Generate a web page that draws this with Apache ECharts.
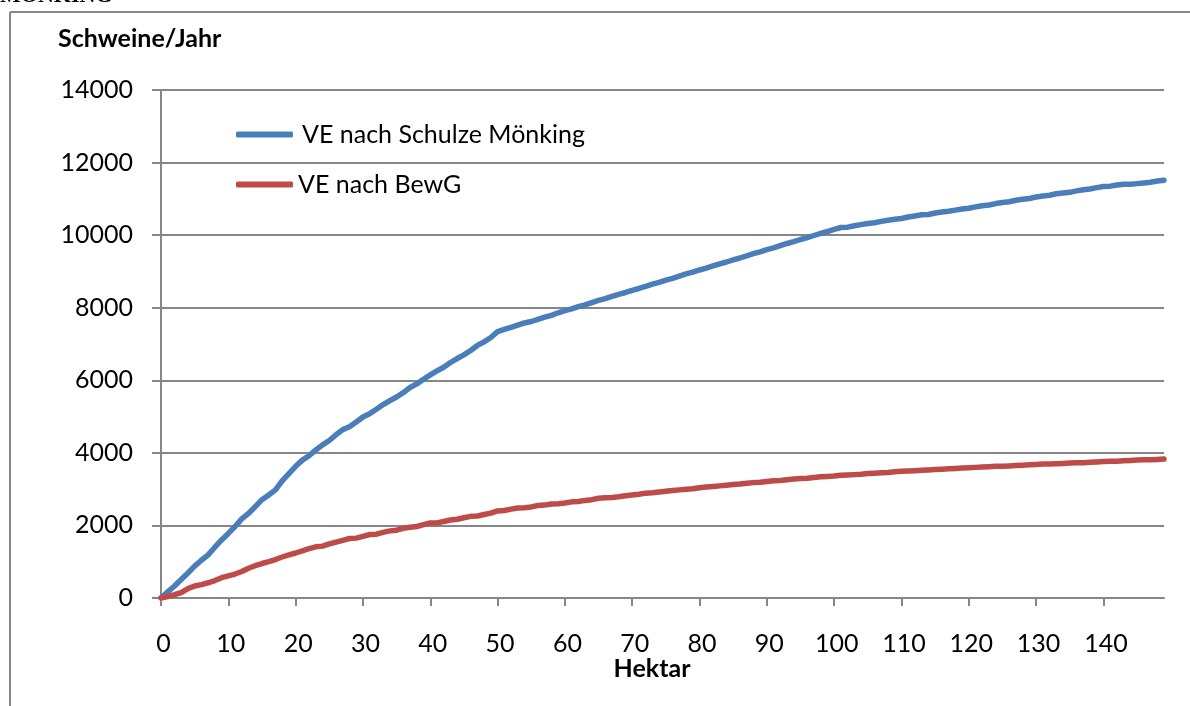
<!DOCTYPE html>
<html>
<head>
<meta charset="utf-8">
<script src="https://cdn.jsdelivr.net/npm/echarts@6/dist/echarts.min.js"></script>
<style>
  html, body { margin: 0; padding: 0; background: #fff; }
  #chart { width: 1190px; height: 706px; }
</style>
</head>
<body>
<div id="chart"></div>
<script>
// Hektar categories 0 .. 149
const hektar = Array.from({ length: 150 }, (_, i) => String(i));

// Vieheinheiten (as Schweine/Jahr) after Schulze Mönking
const veSchulzeMoenking = [
  0, 170, 330, 510, 690, 880, 1040, 1190, 1400, 1600,
  1780, 1970, 2180, 2330, 2520, 2710, 2840, 2980, 3230, 3430,
  3630, 3800, 3920, 4080, 4220, 4340, 4500, 4640, 4720, 4850,
  4990, 5080, 5200, 5330, 5440, 5540, 5660, 5800, 5900, 6030,
  6150, 6260, 6360, 6490, 6600, 6700, 6820, 6960, 7060, 7180,
  7340, 7400, 7460, 7520, 7580, 7620, 7680, 7740, 7790, 7860,
  7920, 7970, 8030, 8080, 8140, 8200, 8250, 8310, 8370, 8420,
  8480, 8530, 8590, 8650, 8700, 8760, 8810, 8870, 8930, 8980,
  9040, 9090, 9150, 9210, 9260, 9320, 9370, 9430, 9490, 9540,
  9600, 9650, 9710, 9770, 9820, 9880, 9930, 9990, 10050, 10100,
  10160, 10210, 10220, 10260, 10290, 10320, 10340, 10380, 10410, 10440,
  10460, 10500, 10530, 10560, 10570, 10610, 10640, 10660, 10690, 10720,
  10740, 10780, 10810, 10830, 10870, 10900, 10920, 10960, 10990, 11010,
  11050, 11080, 11100, 11140, 11160, 11180, 11220, 11250, 11270, 11310,
  11340, 11350, 11380, 11400, 11400, 11420, 11440, 11460, 11490, 11510
];

// Vieheinheiten (as Schweine/Jahr) after BewG
const veBewG = [
  0, 40, 90, 150, 260, 330, 370, 420, 480, 560,
  610, 660, 730, 820, 890, 950, 1000, 1060, 1130, 1190,
  1240, 1300, 1360, 1410, 1430, 1490, 1540, 1590, 1640, 1650,
  1700, 1750, 1760, 1810, 1850, 1870, 1920, 1950, 1970, 2020,
  2070, 2070, 2110, 2150, 2170, 2210, 2250, 2260, 2300, 2340,
  2400, 2410, 2450, 2480, 2490, 2510, 2550, 2560, 2590, 2600,
  2620, 2650, 2660, 2690, 2710, 2750, 2760, 2770, 2790, 2820,
  2840, 2860, 2890, 2900, 2920, 2940, 2960, 2980, 3000, 3010,
  3040, 3060, 3070, 3090, 3110, 3130, 3140, 3160, 3180, 3190,
  3210, 3230, 3240, 3260, 3280, 3290, 3300, 3320, 3340, 3350,
  3360, 3380, 3390, 3400, 3410, 3430, 3440, 3450, 3460, 3480,
  3490, 3500, 3510, 3520, 3530, 3540, 3550, 3560, 3570, 3580,
  3590, 3600, 3610, 3620, 3630, 3630, 3640, 3650, 3660, 3670,
  3680, 3690, 3690, 3700, 3710, 3720, 3730, 3730, 3740, 3750,
  3760, 3770, 3770, 3780, 3790, 3800, 3810, 3810, 3820, 3830
];

const seriesNames = ['VE nach Schulze Mönking', 'VE nach BewG'];
const yTicks = { min: 0, max: 14000, step: 2000 };

const GRAY = '#868686';
const FONT = 'Lato, "Open Sans", sans-serif';

const chart = echarts.init(document.getElementById('chart'), null, { renderer: 'canvas' });

chart.setOption({
  backgroundColor: '#ffffff',
  animation: false,
  grid: { left: 161, right: 26, top: 90, bottom: 108, containLabel: false },
  legend: [
    {
      data: [seriesNames[0]],
      left: 236, top: 122, orient: 'vertical', padding: 0,
      itemWidth: 57, itemHeight: 6,
      icon: 'roundRect',
      textStyle: { fontFamily: FONT, fontSize: 25, color: '#000', padding: [6, 0, 0, 4] }
    },
    {
      data: [seriesNames[1]],
      left: 236, top: 172, orient: 'vertical', padding: 0,
      itemWidth: 57, itemHeight: 6,
      icon: 'roundRect',
      textStyle: { fontFamily: FONT, fontSize: 25, color: '#000', padding: [4, 0, 0, 0] }
    }
  ],
  xAxis: {
    type: 'category',
    data: hektar,
    boundaryGap: false,
    axisLine: { show: true, lineStyle: { color: GRAY, width: 2 } },
    axisTick: { show: true, interval: 9, length: 8, lineStyle: { color: GRAY, width: 2 } },
    axisLabel: { interval: 9, margin: 33, fontFamily: FONT, fontSize: 25, color: '#000', padding: [0, 0, 0, 5] },
    splitLine: { show: false }
  },
  yAxis: {
    type: 'value',
    min: yTicks.min, max: yTicks.max, interval: yTicks.step,
    axisLine: { show: true, lineStyle: { color: GRAY, width: 2 } },
    axisTick: { show: true, length: 9, lineStyle: { color: GRAY, width: 2 } },
    axisLabel: { margin: 28, fontFamily: FONT, fontSize: 25, color: '#000', formatter: v => String(v) },
    splitLine: { show: true, lineStyle: { color: GRAY, width: 2 } }
  },
  series: [
    {
      name: seriesNames[0], type: 'line', data: veSchulzeMoenking,
      symbol: 'none', smooth: false, color: '#4A7EBB',
      lineStyle: { width: 5.5, color: '#4A7EBB', cap: 'round', join: 'round' }
    },
    {
      name: seriesNames[1], type: 'line', data: veBewG,
      symbol: 'none', smooth: false, color: '#BE4B48',
      lineStyle: { width: 5.5, color: '#BE4B48', cap: 'round', join: 'round' }
    }
  ],
  graphic: [
    // frame around the chart area
    { type: 'line', shape: { x1: 10, y1: 12, x2: 1190, y2: 12 }, style: { stroke: GRAY, lineWidth: 2 } },
    { type: 'line', shape: { x1: 10, y1: 12, x2: 10, y2: 706 }, style: { stroke: GRAY, lineWidth: 2 } },
    // heading above the frame
    { type: 'text', left: 0, top: -15, style: { text: 'MÖNKING', font: 'bold 22px "Liberation Serif", "DejaVu Serif", serif', fill: '#000' } },
    // axis titles
    { type: 'text', x: 58, y: 39, style: { text: 'Schweine/Jahr', font: 'bold 25px ' + FONT, fill: '#000', verticalAlign: 'middle' } },
    { type: 'text', x: 652, y: 669, style: { text: 'Hektar', font: 'bold 25px ' + FONT, fill: '#000', align: 'center', verticalAlign: 'middle' } }
  ]
});
</script>
</body>
</html>
